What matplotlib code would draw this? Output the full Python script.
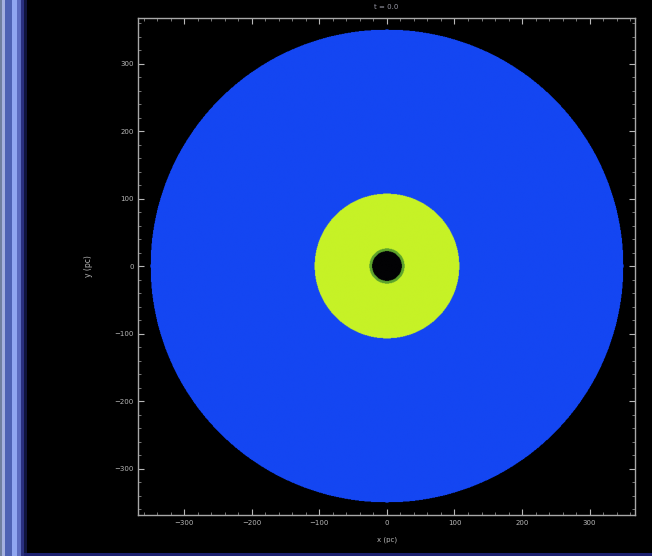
import matplotlib
matplotlib.use("Agg")
import matplotlib.pyplot as plt
from matplotlib.colors import ListedColormap
from matplotlib.patches import Rectangle
import numpy as np

# radial zones of the disc: outer radius (pc) and colour level of each zone
zone_radius = [22, 26, 107, 350]
zone_level = [0, 1, 3, 2]
zone_colors = ["#020204", "#5ea42c", "#1446f2", "#c6f226"]

x_ticks = [-300, -200, -100, 0, 100, 200, 300]
y_ticks = [-300, -200, -100, 0, 100, 200, 300]
x_label = "x (pc)"
y_label = "y (pc)"
title = "t = 0.0"
half_width = 368

fig = plt.figure(figsize=(6.52, 5.56), dpi=100, facecolor="black")
ax = fig.add_axes([0.210, 0.074, 0.767, 0.894], facecolor="black")

n = 900
g = np.linspace(-half_width, half_width, n)
xx, yy = np.meshgrid(g, g)
rr = np.hypot(xx, yy)
img = np.full(rr.shape, np.nan)
for r_out, lev in reversed(list(zip(zone_radius, zone_level))):
    img[rr <= r_out] = lev

cmap = ListedColormap(zone_colors)
ax.imshow(np.ma.masked_invalid(img), cmap=cmap, vmin=-0.5, vmax=3.5,
          extent=[-half_width, half_width, -half_width, half_width],
          origin="lower", interpolation="antialiased")

ax.set_xlim(-half_width, half_width)
ax.set_ylim(-half_width, half_width)
ax.set_xticks(x_ticks)
ax.set_yticks(y_ticks)
ax.tick_params(direction="in", colors="#b8b8b8", labelsize=5, length=4,
               top=True, right=True, width=0.8)
ax.minorticks_on()
ax.tick_params(which="minor", direction="in", colors="#8a8a8a", length=2,
               top=True, right=True)
for sp in ax.spines.values():
    sp.set_color("#a8a8a8")
    sp.set_linewidth(1.0)

ax.set_xlabel(x_label, color="#b8b8b8", fontsize=5, labelpad=8)
ax.set_ylabel(y_label, color="#b8b8b8", fontsize=5.5, labelpad=15)
fig.text(0.593, 0.992, title, color="#9a9aa8", fontsize=5, ha="center", va="top")

# window border strip on the left and along the bottom
strips = [(0, 2, "#7080a0"), (2, 5, "#a4b0e0"), (5, 12, "#4e62b4"),
          (12, 17, "#90a6f0"), (17, 21, "#5c6cc0"), (21, 24, "#2a3080"),
          (24, 27, "#10143c")]
for x0, x1, c in strips:
    fig.add_artist(Rectangle((x0 / 652, 0), (x1 - x0) / 652, 1,
                             transform=fig.transFigure, color=c, lw=0))
fig.add_artist(Rectangle((24 / 652, 0.0), 1, 3 / 556, transform=fig.transFigure,
                         color="#1c2070", lw=0))

fig.savefig("out.png", dpi=100, facecolor="black")
